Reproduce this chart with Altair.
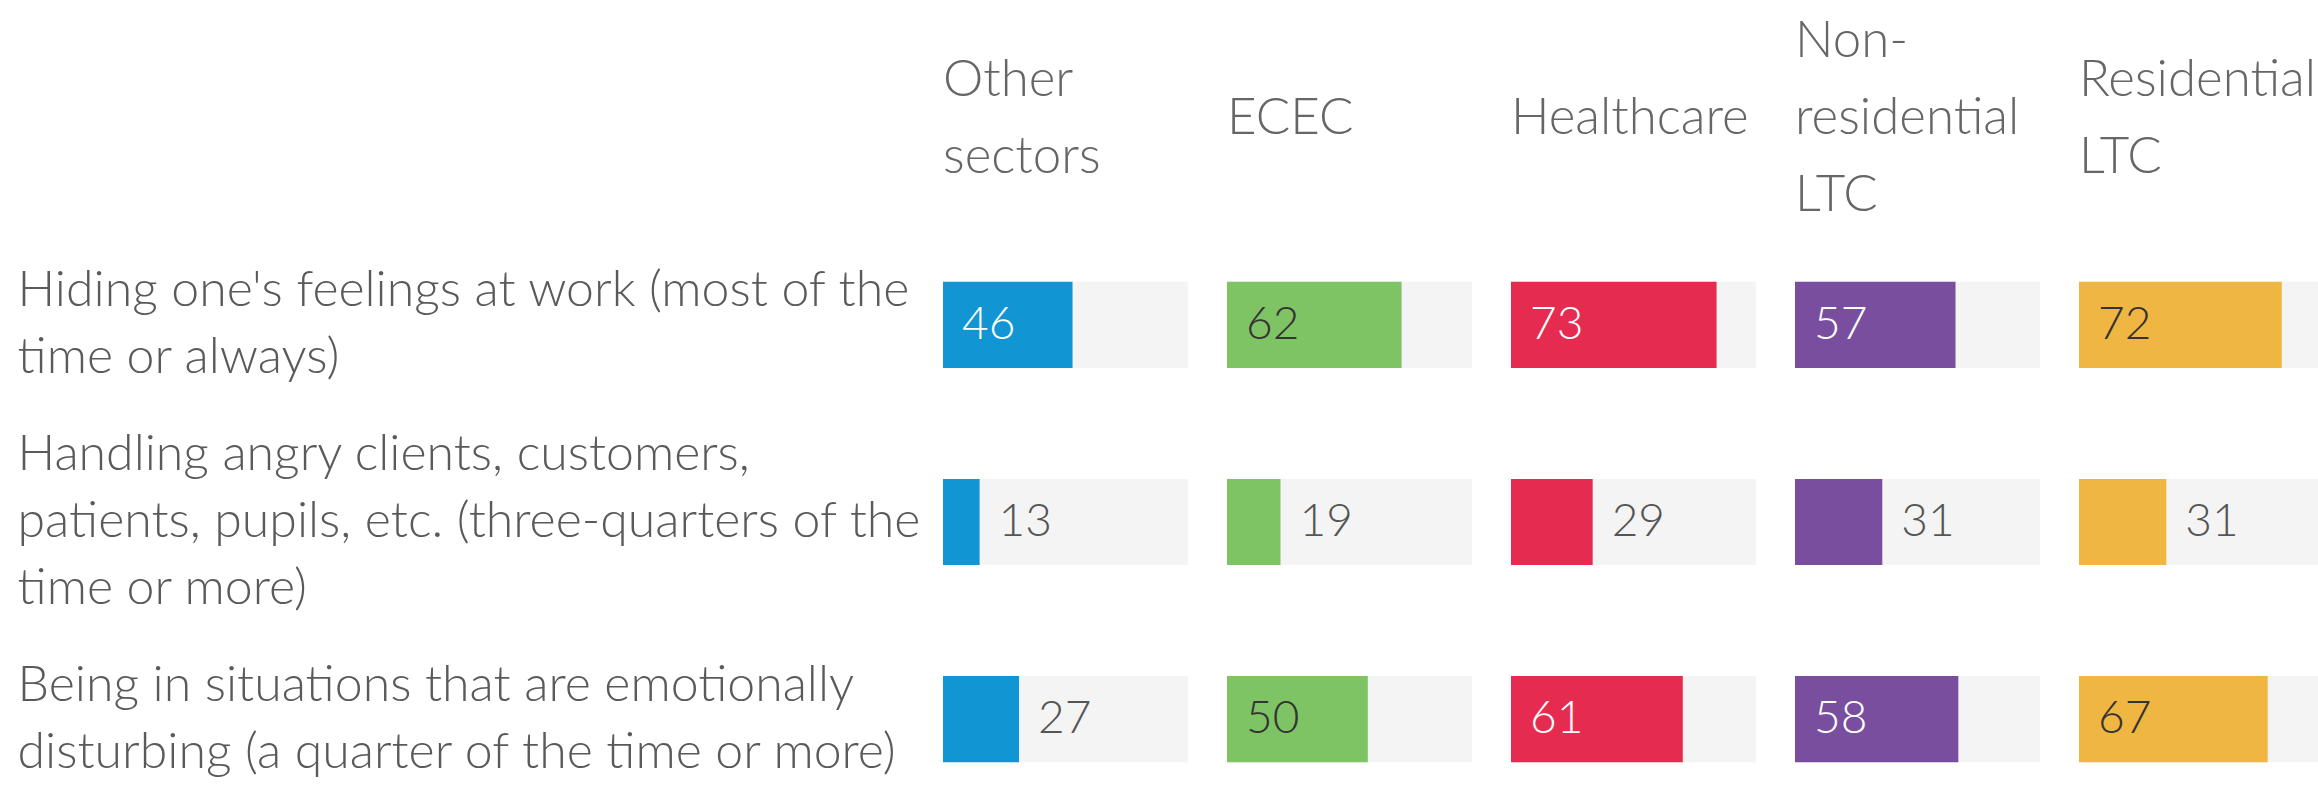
import altair as alt
import pandas as pd

# ---- data ----
sectors = ["Other sectors", "ECEC", "Healthcare", "Non-residential LTC", "Residential LTC"]
headers = [["Other", "sectors"], ["ECEC"], ["Healthcare"], ["Non-", "residential", "LTC"], ["Residential", "LTC"]]
items = [
    "Hiding one's feelings at work (most of the|time or always)",
    "Handling angry clients, customers,|patients, pupils, etc. (three-quarters of the|time or more)",
    "Being in situations that are emotionally|disturbing (a quarter of the time or more)",
]
other_sectors = [46, 13, 27]
ecec = [62, 19, 50]
healthcare = [73, 29, 61]
non_residential_ltc = [57, 31, 58]
residential_ltc = [72, 31, 67]
series = [other_sectors, ecec, healthcare, non_residential_ltc, residential_ltc]

# ---- style ----
FONT = "Lato"
bar_colors = ["#1196D3", "#7FC464", "#E62B50", "#794E9F", "#EFB641"]
inside_text_colors = ["#FFFFFF", "#333333", "#FFFFFF", "#FFFFFF", "#333333"]
outside_text_color = "#555555"
track_color = "#F4F4F4"
TRACK_W = 245
LAST_W = 239
GAP = 39
X_MAX = 87
H = 500
INSIDE_MIN = 40
LABEL_LH = 67
HEADER_LH = 77
HEADER_CENTER = -153


def panel(i):
    w = TRACK_W if i < len(sectors) - 1 else LAST_W
    dom = X_MAX * w / TRACK_W
    df = pd.DataFrame({"item": items, "value": series[i]})
    df["inside"] = df["value"] >= INSIDE_MIN
    df["tx"] = [0 if ins else v for ins, v in zip(df["inside"], df["value"])]
    df["tcolor"] = [inside_text_colors[i] if ins else outside_text_color for ins in df["inside"]]

    if i == 0:
        axis = alt.Axis(
            labelExpr="split(datum.label, '|')",
            labelAlign="left",
            labelBaseline="middle",
            labelPadding=926,
            labelOffset={
                "condition": {"test": "length(split(datum.label, '|')) >= 3",
                              "value": -LABEL_LH},
                "value": -LABEL_LH / 2,
            },
            ticks=False,
            tickSize=0,
            domain=False,
            labelFont=FONT,
            labelFontSize=50,
            labelFontWeight=300,
            labelColor="#5A5A5A",
            labelLineHeight=LABEL_LH,
            labelLimit=1000,
            labelOverlap=False,
            title=None,
        )
    else:
        axis = None
    y = alt.Y("item:N", sort=items, axis=axis,
              scale=alt.Scale(paddingInner=0.563, paddingOuter=0.05))
    xs = alt.Scale(domain=[0, dom])
    base = alt.Chart(df)
    track = base.mark_bar(color=track_color).encode(
        y=y, x=alt.value(0), x2=alt.value(w))
    bar = base.mark_bar(color=bar_colors[i]).encode(
        y=y, x=alt.X("value:Q", scale=xs, axis=None))
    text = base.mark_text(align="left", baseline="middle", dx=19,
                          font=FONT, fontSize=46, fontWeight=300).encode(
        y=y, x=alt.X("tx:Q", scale=xs, axis=None), text="value:Q",
        color=alt.Color("tcolor:N", scale=None))
    n_lines = len(headers[i])
    hdr = alt.Chart(pd.DataFrame({"h": ["\n".join(headers[i])]})).mark_text(
        align="left", baseline="middle", lineBreak="\n", font=FONT,
        fontSize=51, fontWeight=300, lineHeight=HEADER_LH, color="#666666").encode(
        x=alt.value(0), y=alt.value(HEADER_CENTER - (n_lines - 1) * HEADER_LH / 2), text="h:N")
    return alt.layer(track, bar, text, hdr).properties(width=w, height=H)


chart = alt.hconcat(*[panel(i) for i in range(len(sectors))], spacing=GAP, bounds="flush").properties(
    padding={"left": 17, "top": 16, "right": 0, "bottom": 0},
    background="white",
).configure_view(stroke=None)

chart.save("out.html", embed_options={"renderer": "svg", "actions": False})
